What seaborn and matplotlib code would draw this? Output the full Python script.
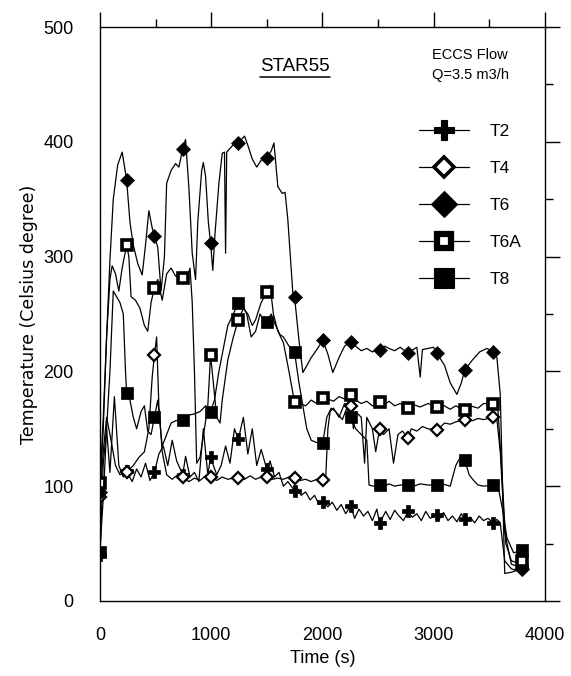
import numpy as np
import matplotlib
matplotlib.use('Agg')
import matplotlib.pyplot as plt
from matplotlib.lines import Line2D
import seaborn as sns

sns.set_style('white')
plt.rcParams['font.family'] = ['Liberation Sans', 'DejaVu Sans']
plt.rcParams['text.color'] = 'black'
plt.rcParams['axes.labelcolor'] = 'black'

# ---- data (time in s, temperature in deg C) ----
marker_times = [0, 240, 490, 745, 995, 1245, 1500, 1750, 2005, 2255, 2515, 2770, 3030, 3280, 3535, 3800]

t2_time = [0, 30, 60, 90, 130, 170, 210, 240, 290, 330, 370, 410, 450, 490, 530, 570, 610, 650,
           690, 745, 770, 810, 850, 890, 930, 970, 995, 1050, 1090, 1130, 1170, 1210, 1245, 1290,
           1330, 1370, 1410, 1450, 1500, 1530, 1570, 1610, 1650, 1690, 1750, 1770, 1810, 1850,
           1890, 1930, 1970, 2005, 2050, 2090, 2130, 2170, 2210, 2255, 2290, 2330, 2370, 2410,
           2450, 2490, 2515, 2570, 2610, 2650, 2690, 2730, 2770, 2810, 2850, 2890, 2930, 2970,
           3030, 3050, 3090, 3130, 3170, 3210, 3250, 3280, 3330, 3370, 3410, 3450, 3490, 3535,
           3570, 3600, 3640, 3700, 3760, 3800]
t2_temp = [40, 120, 150, 112, 178, 118, 108, 113, 104, 115, 108, 120, 105, 112, 128, 135, 118, 140,
           122, 110, 126, 108, 112, 104, 150, 110, 125, 110, 118, 135, 120, 150, 141, 160,
           128, 150, 118, 132, 115, 122, 108, 112, 100, 104, 96, 99, 92, 95,
           88, 92, 84, 86, 82, 86, 79, 84, 76, 83, 72, 80, 74, 78,
           70, 80, 68, 78, 71, 79, 74, 70, 78, 73, 76, 70, 78, 72,
           75, 71, 77, 70, 74, 69, 76, 71, 73, 68, 74, 70, 72, 68,
           71, 68, 35, 28, 26, 30]

t4_time = [0, 30, 60, 100, 140, 180, 240, 300, 350, 400, 440, 470, 490, 510, 530, 560, 600, 650,
           700, 745, 800, 850, 900, 950, 995, 1050, 1100, 1150, 1200, 1245, 1300, 1350, 1400,
           1450, 1500, 1550, 1600, 1650, 1700, 1750, 1800, 1850, 1900, 1950, 2005, 2030, 2050,
           2070, 2100, 2150, 2200, 2255, 2280, 2300, 2350, 2380, 2400, 2450, 2480, 2515, 2550,
           2600, 2640, 2680, 2720, 2770, 2800, 2850, 2900, 2950, 3030, 3100, 3150, 3200, 3280,
           3350, 3400, 3450, 3535, 3570, 3600, 3640, 3700, 3760, 3800]
t4_temp = [91, 130, 160, 140, 118, 110, 112, 118, 125, 130, 150, 195, 214, 230, 170, 130, 110, 106,
           110, 108, 104, 107, 105, 109, 108, 105, 108, 106, 107, 107, 106, 109, 106,
           108, 108, 106, 107, 106, 108, 107, 105, 106, 104, 106, 105, 106, 150,
           165, 168, 160, 172, 170, 150, 165, 160, 120, 160, 150, 130, 150, 145,
           150, 120, 145, 148, 142, 150, 148, 152, 150, 149, 155, 154, 156, 158,
           157, 159, 158, 160, 158, 130, 60, 32, 30, 28]

t6_time = [0, 30, 60, 90, 120, 160, 200, 240, 270, 300, 340, 380, 410, 440, 470, 490, 520, 550,
           580, 600, 640, 680, 710, 745, 770, 800, 830, 860, 880, 915, 930, 950, 975, 995, 1015,
           1035, 1070, 1100, 1120, 1130, 1140, 1195, 1245, 1300, 1330, 1370, 1410, 1450, 1500,
           1540, 1565, 1600, 1640, 1665, 1690, 1735, 1750, 1790, 1825, 1860, 1900, 1950, 2005,
           2050, 2094, 2150, 2200, 2255, 2300, 2350, 2400, 2450, 2515, 2560, 2600, 2650, 2700,
           2770, 2800, 2850, 2880, 2900, 2950, 3000, 3030, 3100, 3150, 3210, 3250, 3280, 3350,
           3415, 3480, 3535, 3570, 3600, 3640, 3700, 3760, 3800]
t6_temp = [95, 150, 230, 297, 350, 380, 391, 367, 330, 310, 294, 284, 310, 340, 325, 318, 308, 270,
           300, 364, 375, 381, 378, 394, 402, 360, 303, 280, 330, 375, 382, 370, 330, 312, 288,
           320, 364, 390, 391, 303, 391, 397, 399, 405, 397, 385, 378, 384, 386,
           392, 399, 361, 355, 356, 332, 268, 265, 227, 199, 205, 212, 219, 227,
           215, 199, 212, 222, 226, 222, 218, 220, 217, 219, 222, 220, 218, 221,
           216, 218, 221, 195, 219, 220, 221, 216, 205, 190, 180, 190, 201, 210,
           217, 220, 217, 212, 180, 24, 25, 27, 28]

t6a_time = [0, 30, 60, 90, 110, 140, 170, 200, 240, 260, 280, 320, 360, 400, 430, 460, 490, 520,
            560, 600, 640, 680, 720, 745, 780, 810, 830, 850, 870, 900, 940, 970, 995, 1020, 1050,
            1080, 1100, 1150, 1200, 1245, 1290, 1330, 1370, 1400, 1450, 1500, 1530, 1560, 1600,
            1650, 1700, 1750, 1800, 1850, 1900, 1950, 2005, 2050, 2100, 2150, 2200, 2255, 2300,
            2350, 2400, 2450, 2515, 2560, 2600, 2650, 2700, 2770, 2820, 2880, 2950, 3030, 3080,
            3150, 3200, 3280, 3330, 3400, 3450, 3535, 3580, 3610, 3650, 3700, 3760, 3800]
t6a_temp = [103, 160, 230, 280, 292, 285, 270, 290, 310, 300, 265, 262, 255, 240, 235, 260, 273, 280,
            262, 285, 290, 283, 286, 281, 280, 290, 260, 200, 120, 125, 150, 170, 214, 190, 160,
            155, 175, 210, 230, 245, 255, 250, 240, 245, 260, 269, 275, 250, 235,
            225, 200, 173, 172, 170, 175, 172, 177, 176, 174, 178, 176, 179, 175,
            172, 174, 170, 173, 171, 174, 170, 172, 168, 171, 169, 172, 169, 171,
            167, 170, 166, 170, 168, 172, 172, 165, 120, 50, 35, 33, 35]

t8_time = [0, 30, 60, 90, 120, 150, 180, 210, 230, 240, 270, 300, 330, 370, 400, 430, 460, 490,
           520, 560, 600, 640, 680, 745, 800, 850, 900, 950, 995, 1030, 1070, 1100, 1150, 1200,
           1245, 1280, 1320, 1360, 1400, 1440, 1470, 1500, 1540, 1580, 1620, 1650, 1700, 1750,
           1790, 1825, 1860, 1900, 1950, 2005, 2040, 2080, 2120, 2180, 2220, 2255, 2300, 2350,
           2400, 2420, 2460, 2515, 2560, 2600, 2650, 2700, 2770, 2820, 2880, 2950, 3030, 3080,
           3150, 3200, 3240, 3280, 3320, 3360, 3400, 3450, 3535, 3580, 3620, 3660, 3720, 3800]
t8_temp = [43, 90, 150, 200, 270, 265, 260, 250, 200, 181, 175, 160, 150, 165, 170, 148, 145, 160,
           175, 135, 145, 155, 157, 158, 162, 163, 165, 170, 165, 175, 200, 215, 240, 250,
           260, 258, 250, 230, 235, 250, 245, 243, 250, 240, 232, 230, 222, 217,
           190, 170, 150, 140, 138, 138, 160, 168, 165, 158, 168, 160, 150, 145,
           140, 101, 100, 101, 100, 102, 100, 101, 101, 100, 102, 101, 101, 102,
           100, 118, 125, 123, 110, 105, 101, 100, 101, 100, 80, 55, 42, 44]

series_names = ['T2', 'T4', 'T6', 'T6A', 'T8']
series_time = [t2_time, t4_time, t6_time, t6a_time, t8_time]
series_temp = [t2_temp, t4_temp, t6_temp, t6a_temp, t8_temp]

# marker style per channel: (marker, face, size, edge width, legend size, legend edge width)
styles = [('P', 'black', 8.5, 0.5, 15, 0.8), ('D', 'white', 6, 1.6, 10.5, 2.6),
          ('D', 'black', 7.5, 0.5, 13, 0.8), ('s', 'white', 6.5, 2.6, 10.5, 4.5),
          ('s', 'black', 8.5, 0.5, 14, 0.8)]

fig = plt.figure(figsize=(5.71, 6.76), dpi=100)
ax = fig.add_axes([0.175, 0.111, 0.779, 0.849])

handles = []
for name, tt, yy, (mk, fc, ms, mew, lms, lmew) in zip(series_names, series_time, series_temp, styles):
    tt = np.asarray(tt)
    every = [int(np.abs(tt - m).argmin()) for m in marker_times]
    sns.lineplot(x=tt, y=yy, ax=ax, color='black', lw=0.9, sort=False, estimator=None,
                 marker=mk, markersize=ms, markerfacecolor=fc, markeredgecolor='black',
                 markeredgewidth=mew, markevery=every)
    handles.append(Line2D([], [], color='black', lw=0.9, marker=mk, markersize=lms,
                          markerfacecolor=fc, markeredgecolor='black', markeredgewidth=lmew))

ax.set_xlim(0, 4000)
ax.set_ylim(0, 500)
ax.set_xticks(np.arange(0, 4001, 1000))
ax.set_xticks(np.arange(500, 4000, 1000), minor=True)
ax.set_yticks(np.arange(0, 501, 100))
ax.set_yticks(np.arange(50, 500, 100), minor=True)
ax.tick_params(which='both', direction='out', top=True, right=True, colors='black',
               labelsize=13, width=1.0)
ax.tick_params(which='major', length=11, pad=8)
ax.tick_params(which='minor', length=6)
for s in ax.spines.values():
    s.set_color('black')
    s.set_linewidth(1.0)

ax.set_xlabel('Time (s)', fontsize=13, labelpad=4)
ax.set_ylabel('Temperature (Celsius degree)', fontsize=12.5, family='DejaVu Sans', labelpad=4)

title = ax.text(0.438, 0.932, 'STAR55', transform=ax.transAxes, ha='center', va='center',
                fontsize=13.5)
ax.text(0.832, 0.934, 'ECCS Flow\nQ=3.5 m3/h', transform=ax.transAxes, ha='center',
        va='center', fontsize=10.5, linespacing=1.5)

leg = ax.legend(handles, series_names, loc='upper left', bbox_to_anchor=(0.701, 0.843),
                frameon=False, fontsize=12.5, handlelength=2.9, handletextpad=1.2,
                labelspacing=1.25, numpoints=1, borderaxespad=0)
for txt in leg.get_texts():
    txt.set_color('black')

# underline the run name
fig.canvas.draw()
bb = title.get_window_extent().transformed(ax.transAxes.inverted())
ax.plot([bb.x0, bb.x1], [bb.y0 - 0.004, bb.y0 - 0.004], color='black', lw=1.1,
        transform=ax.transAxes)

fig.savefig('out.png', dpi=100)
